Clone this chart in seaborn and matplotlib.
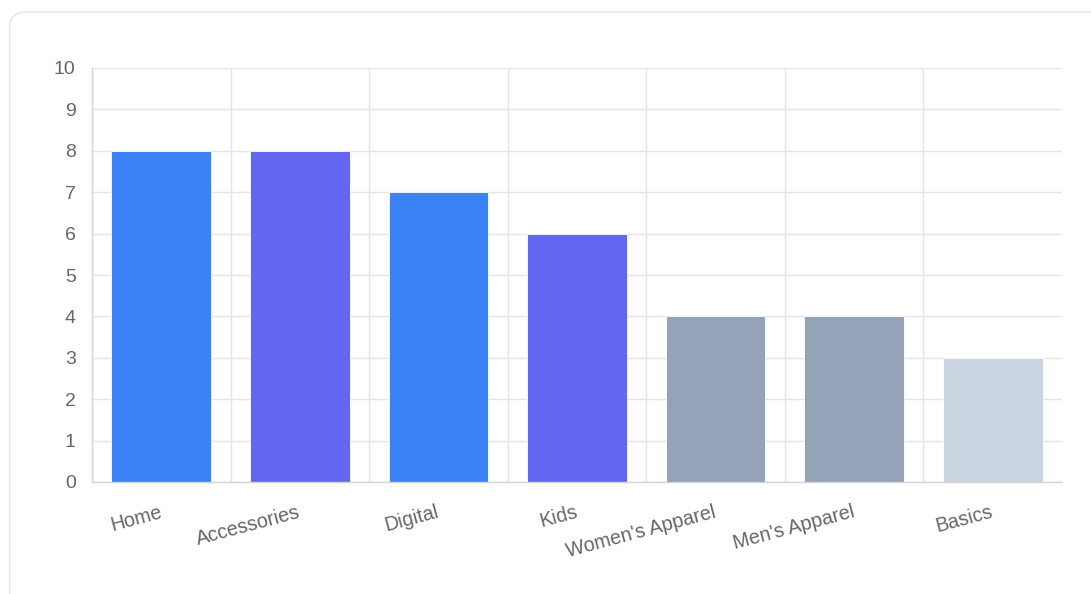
import matplotlib
matplotlib.use("Agg")
import matplotlib.pyplot as plt
from matplotlib.patches import FancyBboxPatch
from matplotlib.transforms import IdentityTransform
import seaborn as sns
import pandas as pd

categories = ["Home", "Accessories", "Digital", "Kids", "Women's Apparel", "Men's Apparel", "Basics"]
values = [8, 8, 7, 6, 4, 4, 3]
bar_colors = ["#3b82f6", "#6366f1", "#3b82f6", "#6366f1", "#94a3b8", "#94a3b8", "#cbd5e1"]
y_ticks = list(range(0, 11))

sns.set_theme(style="white")
plt.rcParams["font.family"] = ["Liberation Sans", "DejaVu Sans"]

W, H = 1091, 594
fig = plt.figure(figsize=(W / 100, H / 100), dpi=100)
fig.patch.set_facecolor("white")

# rounded card outline behind the chart (pixel coordinates, origin bottom-left)
card = FancyBboxPatch((9.5, -40), W + 40, H - 12 + 40,
                      boxstyle="round,pad=0,rounding_size=17",
                      transform=IdentityTransform(), facecolor="white",
                      edgecolor="#e2e8f0", linewidth=1.2, zorder=-10)
fig.patches.append(card)

ax = fig.add_axes([92 / W, (H - 482) / H, (1062 - 92) / W, (482 - 68) / H])
ax.set_facecolor("none")

df = pd.DataFrame({"category": categories, "value": values})
sns.barplot(data=df, x="category", y="value", hue="category", palette=bar_colors,
            legend=False, width=0.72, saturation=1, ax=ax, zorder=2,
            edgecolor="white", linewidth=0.6)

ax.set_xlim(-0.5, len(categories) - 0.5)
ax.set_ylim(0, 10)
ax.set_yticks(y_ticks)
ax.set_xlabel("")
ax.set_ylabel("")

grid_c = "#e5e5e5"
ax.set_xticks([i - 0.5 for i in range(len(categories))], minor=True)
ax.grid(True, which="minor", axis="x", color=grid_c, linewidth=1, zorder=0)
ax.grid(True, which="major", axis="y", color=grid_c, linewidth=1, zorder=0)
ax.grid(False, which="major", axis="x")
ax.set_axisbelow(True)

ax.tick_params(axis="x", which="major", length=0, pad=21.5)
ax.tick_params(axis="x", which="minor", length=9.5, width=1, color=grid_c)
ax.tick_params(axis="y", length=8.5, width=1, color=grid_c, pad=3.2,
               labelsize=14, labelcolor="#666666")

for lbl in ax.get_xticklabels():
    lbl.set_rotation(15)
    lbl.set_ha("right")
    lbl.set_va("center")
    lbl.set_rotation_mode("anchor")
    lbl.set_fontsize(14.2)
    lbl.set_color("#666666")

for side in ["top", "right"]:
    ax.spines[side].set_visible(False)
for side in ["left", "bottom"]:
    ax.spines[side].set_color("#d4d4d4")
    ax.spines[side].set_linewidth(1)

fig.savefig("out.png", dpi=100, facecolor="white")
